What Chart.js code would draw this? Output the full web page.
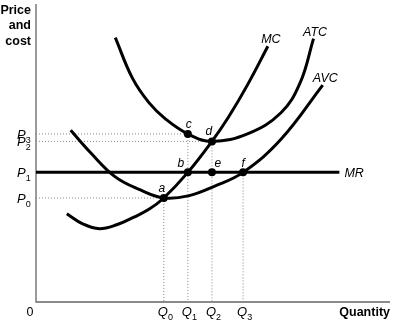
<!DOCTYPE html>
<html>
<head>
<meta charset="utf-8">
<script src="https://cdn.jsdelivr.net/npm/chart.js@4.4.1/dist/chart.umd.min.js"></script>
<style>
  html, body { margin: 0; padding: 0; background: #fff; }
  #wrap { width: 394px; height: 325px; }
</style>
</head>
<body>
<div id="wrap"><canvas id="costChart" width="394" height="325"></canvas></div>
<script>
// ---- data (quantity 0-100, price 0-100) ----
const qLevels = [36.1, 42.9, 49.7, 58.5];          // Q0..Q3
const pLevels = [34.9, 43.5, 53.9, 56.4];          // P0..P3

const mcQ  = [8.7, 13.2, 17.9, 23.0, 27.2, 31.9, 36.1, 42.9, 49.7, 54.3, 59.9, 65.5];
const mcC  = [29.6, 26.2, 24.6, 26.0, 28.2, 31.1, 34.9, 43.5, 53.9, 61.9, 73.2, 85.8];

const atcQ = [22.4, 27.2, 31.9, 36.7, 42.9, 49.7, 59.9, 69.2, 74.6, 78.4];
const atcC = [88.7, 75.2, 66.9, 61.3, 56.4, 53.9, 56.5, 63.5, 73.5, 88.4];

const avcQ = [9.8, 15.5, 22.4, 29.5, 36.1, 43.0, 50.5, 58.5, 69.2, 81.0];
const avcC = [57.6, 50.0, 42.0, 37.6, 34.9, 35.6, 38.9, 43.5, 54.6, 72.8];

const mrQ = [0, 85.7];

const pointNames = ['a', 'b', 'c', 'd', 'e', 'f'];
const pointQi = [0, 1, 1, 2, 2, 3];
const pointPi = [0, 1, 3, 2, 1, 1];

const curveNames = ['MC', 'ATC', 'AVC', 'MR'];

// ---- helpers ----
const zip = (xs, ys) => xs.map((x, i) => ({ x, y: ys[i] }));
const FONT = '"Liberation Sans", Arial, Helvetica, sans-serif';

const curve = (xs, ys) => ({
  data: zip(xs, ys), showLine: true, borderColor: '#000', borderWidth: 3,
  pointRadius: 0, tension: 0.4, cubicInterpolationMode: 'default', fill: false
});
const dotted = pts => ({
  data: pts, showLine: true, borderColor: '#888', borderWidth: 1, borderDash: [1, 2],
  pointRadius: 0, tension: 0, fill: false
});

const points = pointQi.map((qi, i) => ({ x: qLevels[qi], y: pLevels[pointPi[i]] }));

// guides: horizontal from axis to the point, vertical from the point down
const guides = [
  [{ x: 0, y: pLevels[0] }, { x: qLevels[0], y: pLevels[0] }],
  [{ x: 0, y: pLevels[2] }, { x: qLevels[2], y: pLevels[2] }],
  [{ x: 0, y: pLevels[3] }, { x: qLevels[1], y: pLevels[3] }],
  [{ x: qLevels[0], y: pLevels[0] }, { x: qLevels[0], y: 0 }],
  [{ x: qLevels[1], y: pLevels[3] }, { x: qLevels[1], y: 0 }],
  [{ x: qLevels[2], y: pLevels[2] }, { x: qLevels[2], y: 0 }],
  [{ x: qLevels[3], y: pLevels[1] }, { x: qLevels[3], y: 0 }]
];

function subText(ctx, main, sub, x, y) {
  ctx.font = 'italic 13px ' + FONT;
  ctx.textAlign = 'left';
  ctx.fillText(main, x, y);
  const w = ctx.measureText(main).width;
  ctx.font = '9px ' + FONT;
  ctx.fillText(sub, x + w, y + 4);
}

const labelsPlugin = {
  id: 'labels',
  beforeDatasetsDraw(chart) {
    const { ctx, chartArea: a } = chart;
    ctx.save();
    ctx.strokeStyle = '#666';
    ctx.lineWidth = 1.3;
    ctx.beginPath();
    ctx.moveTo(a.left, a.top);
    ctx.lineTo(a.left, a.bottom);
    ctx.lineTo(a.right, a.bottom);
    ctx.stroke();
    ctx.restore();
  },
  afterDatasetsDraw(chart) {
    const { ctx, chartArea: a } = chart;
    const xs = chart.scales.x, ys = chart.scales.y;
    ctx.save();
    ctx.fillStyle = '#000';
    ctx.textBaseline = 'alphabetic';

    // axis titles
    ctx.font = 'bold 12.5px ' + FONT;
    ctx.textAlign = 'right';
    ['Price', 'and', 'cost'].forEach((t, i) => ctx.fillText(t, 31, 13.5 + i * 15.5));
    ctx.fillText('Quantity', a.right, 316);
    ctx.font = '12.5px ' + FONT;
    ctx.textAlign = 'center';
    ctx.fillText('0', 30, 316);

    // tick labels
    qLevels.forEach((q, i) => subText(ctx, 'Q', String(i), xs.getPixelForValue(q) - 6, 316));
    pLevels.forEach((p, i) => subText(ctx, 'P', String(i), 17, ys.getPixelForValue(p) + 5));

    // curve labels at the curve ends
    const ends = [
      [mcQ.at(-1), mcC.at(-1), 3, -3.5, 'center'],
      [atcQ.at(-1), atcC.at(-1), 1.5, -2.5, 'center'],
      [avcQ.at(-1), avcC.at(-1), 2.5, -3, 'center'],
      [mrQ.at(-1), pLevels[1], 5, 5, 'left']
    ];
    ctx.font = 'italic 12.5px ' + FONT;
    ends.forEach(([q, p, dx, dy, al], i) => {
      ctx.textAlign = al;
      ctx.fillText(curveNames[i], xs.getPixelForValue(q) + dx, ys.getPixelForValue(p) + dy);
    });

    // point labels
    const offs = [[-2, -6], [-7, -5], [1, -6], [-3, -6], [6, -5], [0, -5]];
    ctx.font = 'italic 12px ' + FONT;
    ctx.textAlign = 'center';
    points.forEach((pt, i) => {
      ctx.fillText(pointNames[i], xs.getPixelForValue(pt.x) + offs[i][0], ys.getPixelForValue(pt.y) + offs[i][1]);
    });
    ctx.restore();
  }
};

new Chart(document.getElementById('costChart'), {
  type: 'scatter',
  data: {
    datasets: [
      { data: points, pointRadius: 4, pointBackgroundColor: '#000', pointBorderColor: '#000', pointBorderWidth: 0, showLine: false },
      curve(mcQ, mcC),
      curve(atcQ, atcC),
      curve(avcQ, avcC),
      { data: zip(mrQ, [pLevels[1], pLevels[1]]), showLine: true, borderColor: '#000', borderWidth: 3, pointRadius: 0 },
      ...guides.map(dotted)
    ]
  },
  options: {
    responsive: false,
    animation: false,
    devicePixelRatio: 1,
    layout: { padding: { left: 36, right: 1, top: 0, bottom: 23 } },
    plugins: { legend: { display: false }, tooltip: { enabled: false } },
    scales: {
      x: { type: 'linear', min: 0, max: 100, display: false },
      y: { type: 'linear', min: 0, max: 100, display: false }
    }
  },
  plugins: [labelsPlugin]
});
</script>
</body>
</html>
